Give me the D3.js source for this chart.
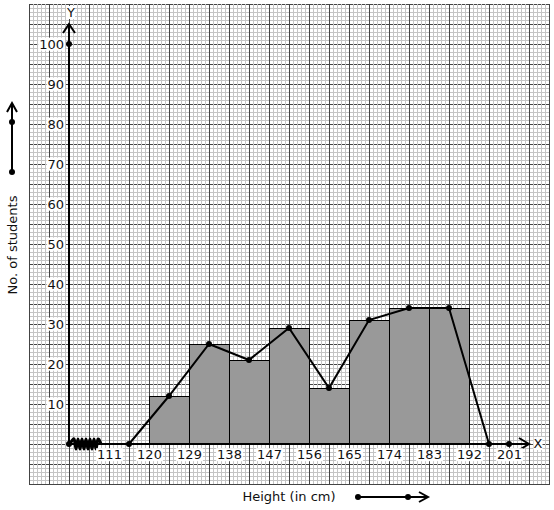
<!DOCTYPE html>
<html>
<head>
<meta charset="utf-8">
<script src="https://cdn.jsdelivr.net/npm/d3@7"></script>
<style>
  body { margin: 0; background: #fff; }
  text { font-family: "DejaVu Sans", sans-serif; font-size: 13px; fill: #111; }
</style>
</head>
<body>
<div id="chart-area"></div>
<script>
// histogram + frequency polygon on graph paper

const classStarts = [120, 129, 138, 147, 156, 165, 174, 183]
const classWidth = 9
const frequencies = [12, 25, 21, 29, 14, 31, 34, 34]
const polyX = [115.5, 124.5, 133.5, 142.5, 151.5, 160.5, 169.5, 178.5, 187.5, 196.5]
const polyY = [0, 12, 25, 21, 29, 14, 31, 34, 34, 0]
const xTicks = [111, 120, 129, 138, 147, 156, 165, 174, 183, 192, 201]
const yTicks = [10, 20, 30, 40, 50, 60, 70, 80, 90, 100]

const W = 554, H = 510
const GRID = { LEFT: 29, RIGHT: 549, TOP: 4, BOTTOM: 484 }
const ORIGIN = { X: 69, Y: 444 }

const svg = d3.select("#chart-area").append("svg")
  .attr("width", W)
  .attr("height", H)

// scales
const x = d3.scaleLinear().domain([111, 201]).range([109, 509])
const y = d3.scaleLinear().domain([0, 100]).range([ORIGIN.Y, 44])

/******************** graph paper ********************/
const grid = svg.append("g").attr("shape-rendering", "crispEdges")
const minor = d3.range(GRID.LEFT, GRID.RIGHT + 1, 4)
const minorY = d3.range(GRID.TOP, GRID.BOTTOM + 1, 4)
const major = d3.range(GRID.LEFT, GRID.RIGHT + 1, 20)
const majorY = d3.range(GRID.TOP, GRID.BOTTOM + 1, 20)

// horizontal majors first, minors drawn over them give the broken look
grid.selectAll(".hmaj").data(majorY).enter().append("line")
  .attr("x1", GRID.LEFT).attr("x2", GRID.RIGHT)
  .attr("y1", d => d + 0.5).attr("y2", d => d + 0.5)
  .attr("stroke", "#444")
grid.selectAll(".hmin").data(minorY.filter(d => (d - GRID.TOP) % 20)).enter().append("line")
  .attr("x1", GRID.LEFT).attr("x2", GRID.RIGHT)
  .attr("y1", d => d + 0.5).attr("y2", d => d + 0.5)
  .attr("stroke", "#c4c4c4")
grid.selectAll(".vmin").data(minor.filter(d => (d - GRID.LEFT) % 20)).enter().append("line")
  .attr("y1", GRID.TOP).attr("y2", GRID.BOTTOM)
  .attr("x1", d => d + 0.5).attr("x2", d => d + 0.5)
  .attr("stroke", "#c4c4c4")
grid.selectAll(".vmaj").data(major).enter().append("line")
  .attr("y1", GRID.TOP).attr("y2", GRID.BOTTOM + 1)
  .attr("x1", d => d + 0.5).attr("x2", d => d + 0.5)
  .attr("stroke", "#444")

/******************** bars ********************/
svg.append("g").selectAll("rect").data(frequencies).enter().append("rect")
  .attr("x", (d, i) => x(classStarts[i]) + 0.5)
  .attr("y", d => y(d) + 0.5)
  .attr("width", x(129) - x(120))
  .attr("height", d => y(0) - y(d))
  .attr("fill", "#999")
  .attr("stroke", "#000")
  .attr("stroke-width", 1)

/******************** axes ********************/
const ax = svg.append("g").attr("stroke", "#000").attr("fill", "none").attr("stroke-width", 2)

// y axis
ax.append("line").attr("x1", ORIGIN.X).attr("x2", ORIGIN.X).attr("y1", ORIGIN.Y).attr("y2", 25)
ax.append("path").attr("d", `M${ORIGIN.X - 6},33 L${ORIGIN.X},24 L${ORIGIN.X + 6},33`)
// x axis
ax.append("line").attr("x1", ORIGIN.X).attr("x2", 528).attr("y1", ORIGIN.Y).attr("y2", ORIGIN.Y)
ax.append("path").attr("d", `M519,${ORIGIN.Y - 6} L529,${ORIGIN.Y} L519,${ORIGIN.Y + 6}`)
// axis break zigzag
const zig = d3.range(0, 13).map(i => [74 + i * 2, ORIGIN.Y + (i % 2 ? 5 : -5)])
ax.append("path")
  .attr("d", d3.line().curve(d3.curveCardinal)([[70, ORIGIN.Y], ...zig, [101, ORIGIN.Y]]))
  .attr("stroke-width", 3)

// tick labels with white backing
const yAxis = svg.append("g")
  .attr("transform", `translate(${ORIGIN.X - 4}, 0)`)
  .call(d3.axisLeft(y).tickValues(yTicks).tickSize(0).tickPadding(1))
yAxis.select(".domain").remove()

const xAxis = svg.append("g")
  .attr("transform", `translate(0, ${ORIGIN.Y + 4})`)
  .call(d3.axisBottom(x).tickValues(xTicks).tickSize(0).tickPadding(2))
xAxis.select(".domain").remove()

svg.selectAll(".tick text")
  .attr("font-family", "DejaVu Sans")
  .attr("font-size", 13)
  .attr("fill", "#111")
svg.selectAll(".tick").each(function() {
  const t = d3.select(this)
  const bb = t.select("text").node().getBBox()
  t.insert("rect", "text")
    .attr("x", bb.x - 1).attr("y", bb.y + 1)
    .attr("width", bb.width + 2).attr("height", bb.height - 2)
    .attr("fill", "#fff")
})

// X and Y letters
function letter(txt, cx, cy) {
  const t = svg.append("text").attr("x", cx).attr("y", cy)
    .attr("text-anchor", "middle").text(txt)
  const bb = t.node().getBBox()
  svg.insert("rect", () => t.node())
    .attr("x", bb.x).attr("y", bb.y + 1)
    .attr("width", bb.width).attr("height", bb.height - 2)
    .attr("fill", "#fff")
}
letter("Y", 71, 17)
letter("X", 538, 448)

/******************** frequency polygon ********************/
const line = d3.line()
  .x(d => x(d[0]))
  .y(d => y(d[1]))
const polyPts = polyX.map((v, i) => [v, polyY[i]])

svg.append("path")
  .attr("d", line(polyPts))
  .attr("fill", "none")
  .attr("stroke", "#000")
  .attr("stroke-width", 2)

svg.append("g").selectAll("circle").data(polyPts).enter().append("circle")
  .attr("cx", d => x(d[0]))
  .attr("cy", d => y(d[1]))
  .attr("r", 3)
  .attr("fill", "#000")

// extra dots: origin, y=100, x=201
svg.append("circle").attr("cx", ORIGIN.X).attr("cy", ORIGIN.Y).attr("r", 3)
svg.append("circle").attr("cx", ORIGIN.X).attr("cy", y(100)).attr("r", 3)
svg.append("circle").attr("cx", x(201)).attr("cy", ORIGIN.Y).attr("r", 3)

/******************** titles ********************/
svg.append("text")
  .attr("transform", "translate(17, 245) rotate(-90)")
  .attr("text-anchor", "middle")
  .text("No. of students")

svg.append("text")
  .attr("x", 289).attr("y", 501)
  .attr("text-anchor", "middle")
  .text("Height (in cm)")

// little direction arrows
const arr = svg.append("g").attr("stroke", "#000").attr("stroke-width", 2).attr("fill", "none")
arr.append("line").attr("x1", 12).attr("x2", 12).attr("y1", 172).attr("y2", 104)
arr.append("path").attr("d", "M7,112 L12,103 L17,112")
svg.append("circle").attr("cx", 12).attr("cy", 172).attr("r", 3)
svg.append("circle").attr("cx", 12).attr("cy", 122).attr("r", 3)

arr.append("line").attr("x1", 358).attr("x2", 428).attr("y1", 497).attr("y2", 497)
arr.append("path").attr("d", "M419,492 L428,497 L419,502")
svg.append("circle").attr("cx", 358).attr("cy", 497).attr("r", 3)
svg.append("circle").attr("cx", 408).attr("cy", 497).attr("r", 3)
</script>
</body>
</html>
